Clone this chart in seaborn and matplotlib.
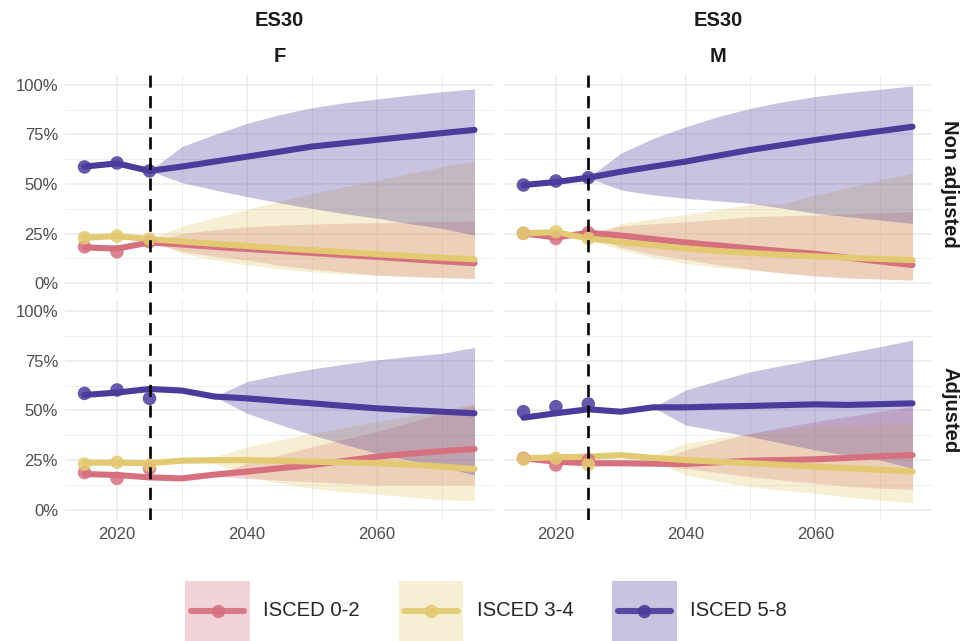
import matplotlib
matplotlib.use("Agg")
import matplotlib.pyplot as plt
import numpy as np
import pandas as pd
import seaborn as sns
from matplotlib.lines import Line2D
from matplotlib.patches import Rectangle
from matplotlib.legend_handler import HandlerBase
from matplotlib.ticker import FixedLocator, FuncFormatter

# ---------------------------------------------------------------- data
region = "ES30"
sexes = ["F", "M"]
scenarios = ["Non adjusted", "Adjusted"]
groups = ["ISCED 0-2", "ISCED 3-4", "ISCED 5-8"]
years = list(range(2015, 2080, 5))        # trajectory years
obs_years = [2015, 2020, 2025]            # observed shares
band_years = list(range(2025, 2080, 5))   # projection interval years
base_year = 2025

# each list holds [ISCED 0-2, ISCED 3-4, ISCED 5-8]
f_non_line = [
    [0.180, 0.174, 0.205, 0.195, 0.183, 0.172, 0.162, 0.152, 0.142, 0.132, 0.121, 0.110, 0.100],
    [0.229, 0.237, 0.222, 0.210, 0.198, 0.187, 0.176, 0.166, 0.156, 0.146, 0.137, 0.128, 0.120],
    [0.588, 0.604, 0.566, 0.588, 0.613, 0.638, 0.663, 0.689, 0.706, 0.723, 0.740, 0.757, 0.773],
]
f_non_pts = [[0.183, 0.158, 0.209], [0.229, 0.237, 0.222], [0.586, 0.606, 0.566]]
f_non_lo = [
    [0.205, 0.160, 0.135, 0.116, 0.090, 0.071, 0.055, 0.040, 0.033, 0.028, 0.024],
    [0.222, 0.150, 0.118, 0.091, 0.072, 0.057, 0.047, 0.040, 0.034, 0.028, 0.024],
    [0.566, 0.507, 0.470, 0.436, 0.405, 0.377, 0.350, 0.327, 0.300, 0.276, 0.242],
]
f_non_hi = [
    [0.205, 0.250, 0.270, 0.284, 0.292, 0.298, 0.302, 0.305, 0.308, 0.311, 0.313],
    [0.222, 0.288, 0.330, 0.372, 0.413, 0.453, 0.487, 0.520, 0.553, 0.587, 0.616],
    [0.566, 0.689, 0.750, 0.806, 0.850, 0.885, 0.910, 0.929, 0.948, 0.966, 0.980],
]

m_non_line = [
    [0.251, 0.230, 0.254, 0.240, 0.222, 0.205, 0.190, 0.175, 0.161, 0.148, 0.128, 0.109, 0.091],
    [0.251, 0.257, 0.225, 0.207, 0.190, 0.175, 0.162, 0.152, 0.143, 0.135, 0.128, 0.122, 0.116],
    [0.495, 0.510, 0.532, 0.562, 0.588, 0.613, 0.643, 0.672, 0.697, 0.722, 0.745, 0.767, 0.789],
]
m_non_pts = [[0.251, 0.225, 0.254], [0.251, 0.259, 0.225], [0.495, 0.515, 0.532]]
m_non_lo = [
    [0.254, 0.180, 0.145, 0.120, 0.092, 0.070, 0.050, 0.035, 0.025, 0.020, 0.015],
    [0.225, 0.167, 0.130, 0.100, 0.080, 0.066, 0.052, 0.040, 0.030, 0.022, 0.015],
    [0.532, 0.470, 0.445, 0.428, 0.415, 0.402, 0.378, 0.352, 0.335, 0.318, 0.301],
]
m_non_hi = [
    [0.254, 0.288, 0.300, 0.310, 0.322, 0.335, 0.340, 0.343, 0.350, 0.355, 0.360],
    [0.225, 0.300, 0.325, 0.345, 0.372, 0.397, 0.400, 0.445, 0.480, 0.520, 0.557],
    [0.532, 0.655, 0.730, 0.789, 0.840, 0.882, 0.915, 0.941, 0.962, 0.978, 0.995],
]

f_adj_line = [
    [0.181, 0.176, 0.164, 0.159, 0.178, 0.193, 0.210, 0.226, 0.247, 0.268, 0.283, 0.296, 0.307],
    [0.238, 0.238, 0.235, 0.248, 0.250, 0.251, 0.247, 0.243, 0.239, 0.235, 0.228, 0.218, 0.206],
    [0.578, 0.590, 0.608, 0.600, 0.570, 0.561, 0.548, 0.536, 0.523, 0.511, 0.502, 0.494, 0.486],
]
f_adj_pts = [[0.188, 0.159, 0.209], [0.231, 0.240, 0.226], [0.586, 0.603, 0.561]]
f_adj_lo = [
    [0.164, 0.159, 0.170, 0.159, 0.150, 0.142, 0.134, 0.126, 0.126, 0.126, 0.126],
    [0.235, 0.248, 0.235, 0.168, 0.135, 0.109, 0.092, 0.080, 0.065, 0.052, 0.047],
    [0.608, 0.600, 0.570, 0.486, 0.430, 0.377, 0.330, 0.285, 0.250, 0.218, 0.176],
]
f_adj_hi = [
    [0.164, 0.159, 0.178, 0.235, 0.277, 0.318, 0.356, 0.394, 0.440, 0.485, 0.528],
    [0.235, 0.248, 0.268, 0.318, 0.352, 0.385, 0.415, 0.444, 0.472, 0.500, 0.536],
    [0.608, 0.600, 0.570, 0.645, 0.680, 0.709, 0.733, 0.754, 0.772, 0.787, 0.817],
]

m_adj_line = [
    [0.260, 0.243, 0.235, 0.235, 0.233, 0.231, 0.240, 0.248, 0.251, 0.255, 0.262, 0.270, 0.276],
    [0.260, 0.265, 0.268, 0.276, 0.262, 0.251, 0.243, 0.235, 0.227, 0.218, 0.210, 0.202, 0.193],
    [0.464, 0.486, 0.506, 0.494, 0.516, 0.516, 0.520, 0.523, 0.527, 0.531, 0.528, 0.532, 0.536],
]
m_adj_pts = [[0.260, 0.226, 0.251], [0.256, 0.260, 0.229], [0.494, 0.519, 0.533]]
m_adj_lo = [
    [0.235, 0.235, 0.225, 0.209, 0.188, 0.168, 0.150, 0.134, 0.120, 0.110, 0.104],
    [0.268, 0.276, 0.250, 0.176, 0.145, 0.117, 0.100, 0.084, 0.065, 0.050, 0.037],
    [0.506, 0.494, 0.516, 0.427, 0.398, 0.369, 0.335, 0.302, 0.276, 0.251, 0.209],
]
m_adj_hi = [
    [0.235, 0.235, 0.240, 0.302, 0.345, 0.385, 0.415, 0.444, 0.470, 0.495, 0.519],
    [0.268, 0.276, 0.275, 0.335, 0.362, 0.385, 0.402, 0.419, 0.425, 0.430, 0.436],
    [0.506, 0.494, 0.516, 0.603, 0.650, 0.695, 0.727, 0.757, 0.790, 0.821, 0.854],
]

palette = {"ISCED 0-2": "#D6707F", "ISCED 3-4": "#E3CA72", "ISCED 5-8": "#4B3B9B"}

# ---------------------------------------------------------------- tidy frames
panels = {
    ("F", "Non adjusted"): (f_non_line, f_non_pts, f_non_lo, f_non_hi),
    ("M", "Non adjusted"): (m_non_line, m_non_pts, m_non_lo, m_non_hi),
    ("F", "Adjusted"): (f_adj_line, f_adj_pts, f_adj_lo, f_adj_hi),
    ("M", "Adjusted"): (m_adj_line, m_adj_pts, m_adj_lo, m_adj_hi),
}
line_rows, pt_rows, band_rows = [], [], []
for (sex, scen), (ln, pt, lo, hi) in panels.items():
    for gi, g in enumerate(groups):
        for y, v in zip(years, ln[gi]):
            line_rows.append((sex, scen, g, y, v))
        for y, v in zip(obs_years, pt[gi]):
            pt_rows.append((sex, scen, g, y, v))
        for y, a, b in zip(band_years, lo[gi], hi[gi]):
            band_rows.append((sex, scen, g, y, a, b))
cols = ["sex", "scenario", "group", "year"]
lines = pd.DataFrame(line_rows, columns=cols + ["share"])
points = pd.DataFrame(pt_rows, columns=cols + ["share"])
bands = pd.DataFrame(band_rows, columns=cols + ["lower", "upper"])

# ---------------------------------------------------------------- figure
sns.set_style("white")
plt.rcParams["font.family"] = ["Liberation Sans", "DejaVu Sans"]

W, H = 960, 641
fig = plt.figure(figsize=(W / 100, H / 100), dpi=100)

col_x = {"F": (65, 494), "M": (504, 932)}
row_y = {"Non adjusted": (75, 293), "Adjusted": (301, 520)}

tick_color = "#4D4D4D"
grid_color = "#EBEBEB"

for scen in scenarios:
    for sex in sexes:
        x0, x1 = col_x[sex]
        y0, y1 = row_y[scen]
        ax = fig.add_axes([x0 / W, 1 - y1 / H, (x1 - x0) / W, (y1 - y0) / H])
        sel = lambda d: d[(d.sex == sex) & (d.scenario == scen)]

        b = sel(bands)
        for g in groups:
            bg = b[b.group == g]
            ax.fill_between(bg.year, bg.lower, bg.upper, color=palette[g],
                            alpha=0.3, linewidth=0, zorder=1)

        sns.lineplot(data=sel(lines), x="year", y="share", hue="group",
                     hue_order=groups, palette=palette, linewidth=4.4,
                     legend=False, ax=ax, zorder=3)
        sns.scatterplot(data=sel(points), x="year", y="share", hue="group",
                        hue_order=groups, palette=palette, s=95, alpha=0.85,
                        edgecolor="none", legend=False, ax=ax, zorder=4)

        ax.axvline(base_year, color="black", linewidth=1.9,
                   linestyle=(0, (4.6, 3.2)), zorder=5)

        ax.set_xlim(2012, 2078)
        ax.set_ylim(-0.05, 1.05)
        ax.xaxis.set_major_locator(FixedLocator([2020, 2040, 2060]))
        ax.xaxis.set_minor_locator(FixedLocator([2030, 2050, 2070]))
        ax.yaxis.set_major_locator(FixedLocator([0, 0.25, 0.5, 0.75, 1.0]))
        ax.yaxis.set_minor_locator(FixedLocator([0.125, 0.375, 0.625, 0.875]))
        ax.yaxis.set_major_formatter(FuncFormatter(lambda v, _: f"{v * 100:.0f}%"))
        ax.grid(which="major", color=grid_color, linewidth=1.1, zorder=0)
        ax.grid(which="minor", color=grid_color, linewidth=0.6, zorder=0)
        ax.set_axisbelow(True)
        for s in ax.spines.values():
            s.set_visible(False)
        ax.tick_params(which="both", length=0, labelsize=12,
                       labelcolor=tick_color, pad=5)
        ax.set_xlabel("")
        ax.set_ylabel("")
        if sex != "F":
            ax.tick_params(labelleft=False)
        if scen != "Adjusted":
            ax.tick_params(labelbottom=False)

# facet strips
for sex in sexes:
    cx = sum(col_x[sex]) / 2 / W
    fig.text(cx, 1 - 20 / H, region, ha="center", va="center",
             fontsize=14.5, fontweight="bold", color="#1A1A1A")
    fig.text(cx, 1 - 57 / H, sex, ha="center", va="center",
             fontsize=14.5, fontweight="bold", color="#1A1A1A")
for scen in scenarios:
    cy = 1 - sum(row_y[scen]) / 2 / H
    fig.text(950 / W, cy, scen, ha="center", va="center", rotation=270,
             fontsize=14.5, fontweight="bold", color="#1A1A1A")


# legend keys: shaded band with a line and a dot
class BandKeyHandler(HandlerBase):
    def create_artists(self, legend, orig_handle, xdescent, ydescent,
                       width, height, fontsize, trans):
        c = orig_handle.get_color()
        box = Rectangle((-xdescent, -ydescent), width, height, facecolor=c,
                        alpha=0.3, linewidth=0, transform=trans)
        yc = -ydescent + height / 2
        pad = width * 0.09
        seg = Line2D([-xdescent + pad, -xdescent + width - pad], [yc, yc],
                     color=c, linewidth=4.4, alpha=0.9, transform=trans)
        dot = Line2D([-xdescent + width / 2], [yc], marker="o", markersize=9.6,
                     markeredgewidth=0, color=c, linestyle="none",
                     alpha=0.9, transform=trans)
        return [box, seg, dot]


handles = [Line2D([], [], color=palette[g]) for g in groups]
fig.legend(handles, groups, handler_map={Line2D: BandKeyHandler()},
           loc="center", bbox_to_anchor=(486 / W, 1 - 611 / H), ncol=3,
           frameon=False, fontsize=14.6, handlelength=3.2, handleheight=4.25,
           handletextpad=0.65, columnspacing=1.9, borderpad=0, borderaxespad=0)

fig.savefig("out.png", dpi=100)
